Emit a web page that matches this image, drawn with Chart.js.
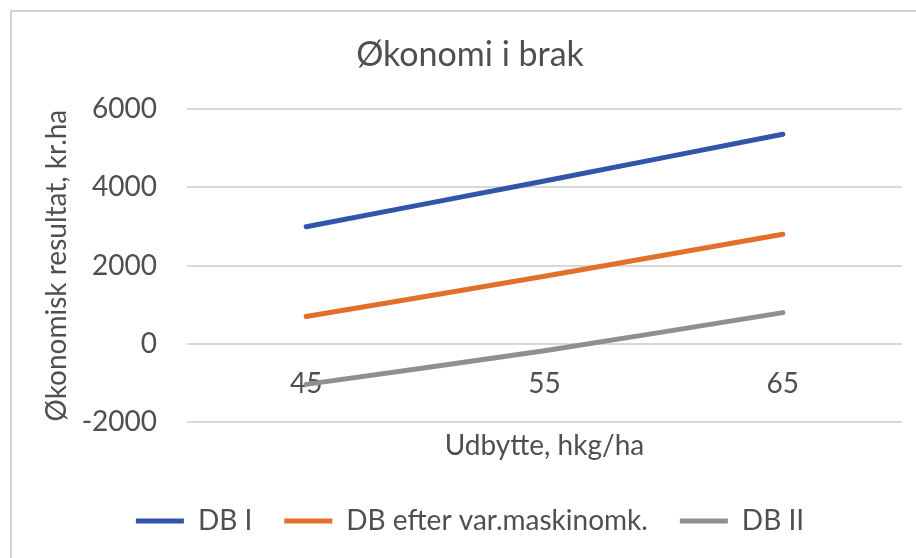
<!DOCTYPE html>
<html><head><meta charset="utf-8">
<script src="https://cdn.jsdelivr.net/npm/chart.js@4.4.1/dist/chart.umd.min.js"></script>
<style>
html,body{margin:0;padding:0;background:#fff;overflow:hidden;width:916px;height:558px}
#wrap{position:absolute;left:10px;top:10px;border-left:2px solid #d2d2d2;border-top:2px solid #d2d2d2;width:916px;height:546px}
canvas{display:block}
</style></head><body>
<div id="wrap"><canvas id="c" width="916" height="546"></canvas></div>
<script>
const categories = ['45', '55', '65'];
const seriesNames = ['DB I', 'DB efter var.maskinomk.', 'DB II'];
const dbI = [2990, 4160, 5350];
const dbEfter = [700, 1730, 2800];
const dbII = [-1030, -170, 800];
const yMin = -2000, yMax = 6000, yStep = 2000;

const textColor = '#4f4f4f';
Chart.defaults.font.family = 'Lato';
Chart.defaults.color = textColor;

function ds(label, data, color) {
  return { label, data, borderColor: color, backgroundColor: color, borderWidth: 5,
    pointRadius: 0, pointHoverRadius: 0, tension: 0.3, fill: false, borderCapStyle: 'round' };
}

new Chart(document.getElementById('c'), {
  type: 'line',
  data: {
    labels: categories,
    datasets: [
      ds(seriesNames[0], dbI, '#3056a8'),
      ds(seriesNames[1], dbEfter, '#e36f2c'),
      ds(seriesNames[2], dbII, '#8f8f8f')
    ]
  },
  options: {
    responsive: false,
    animation: false,
    layout: { padding: { left: 26, right: 26, top: 0, bottom: 13 } },
    scales: {
      x: {
        type: 'category',
        position: { y: 0 },
        offset: true,
        grid: { display: false },
        border: { display: false },
        ticks: { font: { size: 28 }, color: textColor, padding: 15 }
      },
      y: {
        min: yMin, max: yMax,
        afterFit: (scale) => { scale.width = 149; },
        ticks: { stepSize: yStep, font: { size: 28 }, color: textColor, padding: 30,
          callback: (v) => String(v) },
        grid: { color: '#d9d9d9', lineWidth: 2, drawTicks: false },
        border: { display: false },
        title: { display: true, text: 'Økonomisk resultat, kr.ha', font: { size: 28 }, color: textColor,
          padding: { top: 2, bottom: 4 } }
      }
    },
    plugins: {
      title: { display: true, text: 'Økonomi i brak', font: { size: 34, weight: 'normal' }, color: textColor,
        padding: { top: 23, bottom: 33 } },
      subtitle: { display: true, text: 'Udbytte, hkg/ha', position: 'bottom', fullSize: false, weight: 500,
        font: { size: 28 }, color: textColor, padding: { top: 7, bottom: 12 } },
      legend: {
        position: 'bottom',
        labels: {
          font: { size: 28 }, color: textColor, boxWidth: 48, boxHeight: 5, padding: 32,
          generateLabels: (chart) => Chart.defaults.plugins.legend.labels.generateLabels(chart)
            .map(l => Object.assign(l, { lineWidth: 0, fillStyle: l.strokeStyle }))
        }
      },
      tooltip: { enabled: false }
    }
  }
});
</script>
</body></html>
